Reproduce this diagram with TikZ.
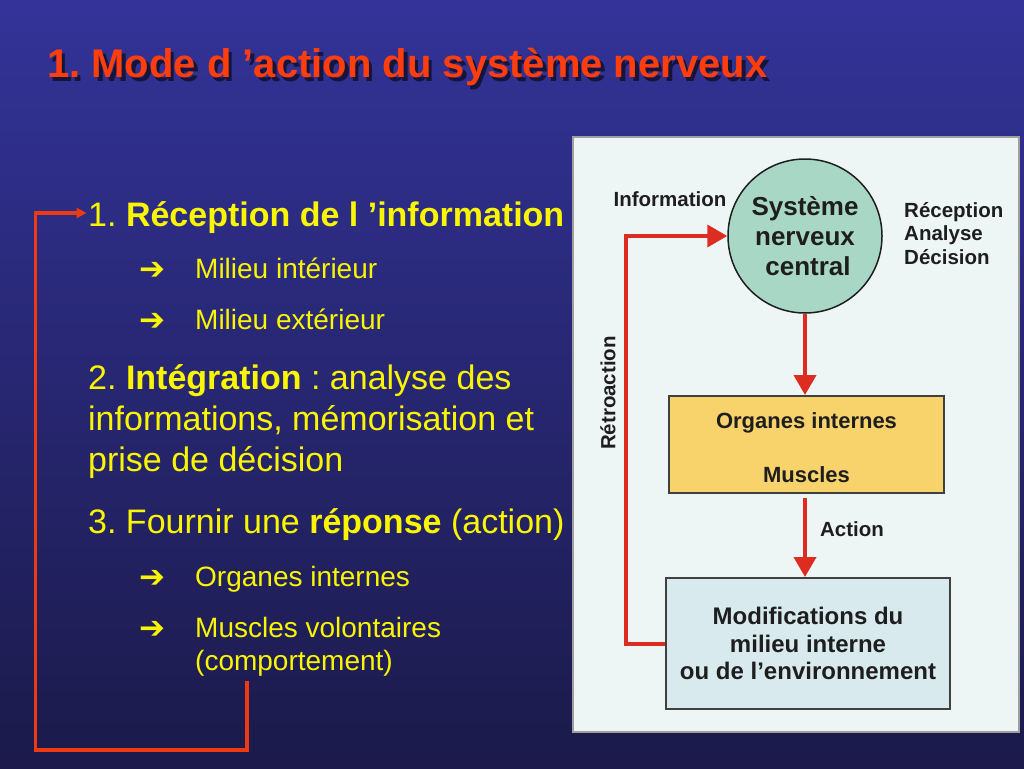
\documentclass[tikz,border=0pt]{standalone}
\usepackage{fontspec}
\setmainfont{Liberation Sans}
\newfontfamily\dejavu{DejaVu Sans}
\usetikzlibrary{arrows.meta,calc}
\definecolor{bgtop}{HTML}{333399}
\definecolor{bgbot}{HTML}{1B1A4A}
\definecolor{ttl}{HTML}{FF3D0D}
\definecolor{ttlshd}{HTML}{15143A}
\definecolor{ylw}{HTML}{FAF500}
\definecolor{lred}{HTML}{EE3A12}
\definecolor{pred}{HTML}{DD2C20}
\definecolor{panelbg}{HTML}{EEF5F5}
\definecolor{circ}{HTML}{A8D8C5}
\definecolor{orgbox}{HTML}{F8D36C}
\definecolor{modbox}{HTML}{D8EAEE}
\definecolor{ink}{HTML}{1E1E1E}
\newcommand{\ttltext}{1. Mode d ’action du système nerveux}
\begin{document}
\frenchspacing
\begin{tikzpicture}[x=1pt,y=-1pt,
  ttlstyle/.style={anchor=base west, inner sep=0pt, font=\bfseries\fontsize{40}{44}\selectfont},
  txt/.style={anchor=base west, inner sep=0pt, text=ylw, font=\fontsize{34}{41}\selectfont},
  subtxt/.style={anchor=base west, inner sep=0pt, text=ylw, font=\fontsize{28}{33}\selectfont},
  bul/.style={anchor=base west, inner sep=0pt, text=ylw, font=\dejavu\bfseries\fontsize{31}{34}\selectfont},
  lbl/.style={inner sep=0pt, text=ink, font=\bfseries\fontsize{20.5}{23.5}\selectfont},
  parr/.style={draw=pred, line width=4pt, -{Triangle[length=20pt,width=22pt]}},
  lconn/.style={draw=lred, line width=3.5pt, -{Triangle[length=10pt,width=10pt]}},
  boxstyle/.style={draw=ink!85, line width=2pt, inner sep=0pt, align=center, text=ink}
]
% background
\shade[top color=bgtop, bottom color=bgbot] (0,0) rectangle (1024,768);
\useasboundingbox (0,0) rectangle (1024,768);

% title with its drop shadow
\node[ttlstyle] (ttl) at (47,77.7)
  {\rlap{\hspace{3.5pt}\raisebox{-3.3pt}{\color{ttlshd}\ttltext}}\color{ttl}\ttltext};

% left text
\node[txt] (r1) at (88,226) {1. \textbf{Réception de l ’information}};
\node[bul] (b1) at (139,279) {➔};
\node[subtxt] (m1) at (195,278) {Milieu intérieur};
\node[bul] (b2) at (139,330) {➔};
\node[subtxt] (m2) at (195,329) {Milieu extérieur};
\node[txt] (i1) at (88,389) {2. \textbf{Intégration} : analyse des};
\node[txt] (i2) at (88,430) {informations, mémorisation et};
\node[txt] (i3) at (88,471) {prise de décision};
\node[txt] (f1) at (88,533) {3. Fournir une \textbf{réponse} (action)};
\node[bul] (b3) at (139,587) {➔};
\node[subtxt] (o1) at (195,586) {Organes internes};
\node[bul] (b4) at (139,638) {➔};
\node[subtxt] (o2) at (195,637) {Muscles volontaires};
\node[subtxt] (o3) at (195,670) {(comportement)};

% left feedback connector
\coordinate (fbs) at (247,681);
\coordinate (r1in) at ($(r1.base west)+(-1.5,-13)$);
\draw[lconn] (fbs) -- ++(0,69) -| ($(r1in)+(-51,0)$) -- (r1in);

% right panel
\node[draw=gray!75, fill=panelbg, line width=1.5pt, minimum width=446, minimum height=595, inner sep=0pt] (panel) at (796,434.5) {};

\node[circle, draw=ink, fill=circ, line width=1.5pt, minimum size=154, inner sep=0pt,
      align=center, text=ink, font=\bfseries\fontsize{26}{30}\selectfont] (snc) at (805,236)
      {Système\\nerveux\\\hspace{6pt}central};

\node[boxstyle, fill=orgbox, minimum width=275, minimum height=97] (org) at (806.5,444.5) {};
\node[inner sep=0pt, align=center, text=ink, font=\bfseries\fontsize{22}{24}\selectfont]
      (orgtxt) at ($(org.center)+(0,3)$) {Organes internes\\[30pt]Muscles};

\node[boxstyle, fill=modbox, minimum width=284, minimum height=131,
      font=\bfseries\fontsize{24}{27.5}\selectfont] (mod) at (808,643.5)
      {Modifications du\\milieu interne\\ou de l’environnement};

\node[lbl] (info) at (670,199) {Information};
\node[lbl, anchor=west, align=left] (rad) at (904,233.5) {Réception\\Analyse\\Décision};
\node[lbl] (act) at (852,529) {Action};
\node[lbl, rotate=90] (retro) at (608,393) {Rétroaction};

\draw[parr] (snc.south) -- (snc.south |- org.north);
\draw[parr, shorten <=4pt] (org.south -| snc.south) -- (snc.south |- mod.north);
\draw[parr] (mod.west) -- ++(-39,0) |- (snc.west);
\end{tikzpicture}
\end{document}
